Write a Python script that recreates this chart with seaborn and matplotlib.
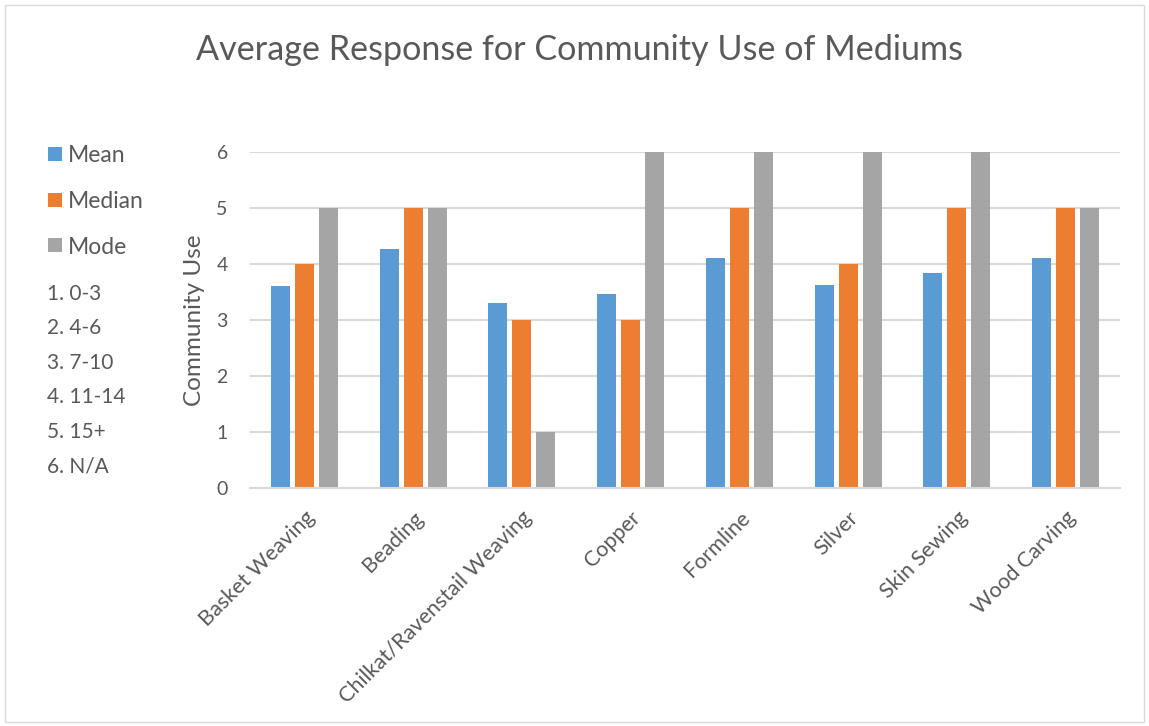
import matplotlib
matplotlib.use("Agg")
import matplotlib.pyplot as plt
from matplotlib.patches import Rectangle
from matplotlib.lines import Line2D
import seaborn as sns
import pandas as pd

categories = ["Basket Weaving", "Beading", "Chilkat/Ravenstail Weaving", "Copper",
              "Formline", "Silver", "Skin Sewing", "Wood Carving"]
mean_vals = [3.61, 4.27, 3.31, 3.46, 4.10, 3.62, 3.84, 4.10]
median_vals = [4, 5, 3, 3, 5, 4, 5, 5]
mode_vals = [5, 5, 1, 6, 6, 6, 6, 5]
series_names = ["Mean", "Median", "Mode"]
series_colors = ["#5b9bd5", "#ed7d31", "#a5a5a5"]
scale_notes = ["1. 0-3", "2. 4-6", "3. 7-10", "4. 11-14", "5. 15+", "6. N/A"]
y_ticks = [0, 1, 2, 3, 4, 5, 6]

df = pd.DataFrame({
    "Medium": categories * 3,
    "Statistic": [s for s in series_names for _ in categories],
    "Value": mean_vals + median_vals + mode_vals,
})

sns.set_theme(style="white")
plt.rcParams["font.family"] = ["Lato", "DejaVu Sans"]
text_color = "#595959"

fig = plt.figure(figsize=(11.49, 7.26), dpi=100)
ax = fig.add_axes([250 / 1149, 1 - 488 / 726, 870 / 1149, 336 / 726])

sns.barplot(data=df, x="Medium", y="Value", hue="Statistic", order=categories,
            hue_order=series_names, palette=series_colors, width=0.66,
            saturation=1, errorbar=None, legend=False, ax=ax)

# leave a small white gap between neighbouring bars
for p in ax.patches:
    w = p.get_width()
    p.set_x(p.get_x() + w * 0.105)
    p.set_width(w * 0.79)
    p.set_linewidth(0)

ax.set_ylim(0, 6)
ax.set_xlim(-0.5, len(categories) - 0.5)
ax.set_yticks(y_ticks)
ax.yaxis.grid(True, color="#d9d9d9", linewidth=1.5)
ax.set_axisbelow(True)
for side in ["top", "right", "left"]:
    ax.spines[side].set_visible(False)
ax.spines["bottom"].set_color("#d9d9d9")
ax.spines["bottom"].set_linewidth(1.5)
ax.tick_params(axis="both", length=0, colors=text_color)
ax.tick_params(axis="x", labelsize=15.5, pad=14)
ax.tick_params(axis="y", labelsize=14, pad=16)
ax.set_xlabel("")
ax.set_ylabel("Community Use", color=text_color, fontsize=17.5, labelpad=8)
plt.setp(ax.get_xticklabels(), rotation=45, ha="right", rotation_mode="anchor")

fig.text(579 / 1149, 1 - 50 / 726, "Average Response for Community Use of Mediums",
         ha="center", va="center", fontsize=24.6, color=text_color)

handles = [Line2D([], [], marker="s", linestyle="none", markersize=10,
                  markerfacecolor=c, markeredgewidth=0) for c in series_colors]
fig.legend(handles, series_names, loc="upper left",
           bbox_to_anchor=(46 / 1149, 1 - 145 / 726), frameon=False,
           borderpad=0, borderaxespad=0,
           fontsize=16.5, labelcolor=text_color, labelspacing=1.08,
           handletextpad=0.15, handlelength=0.8)

for i, note in enumerate(scale_notes):
    fig.text(47 / 1149, 1 - (294 + i * 34.4) / 726, note, ha="left", va="center",
             fontsize=15, color=text_color)

fig.patches.append(Rectangle((5 / 1149, 4 / 726), 1139 / 1149, 717 / 726,
                             transform=fig.transFigure, fill=False,
                             edgecolor="#d9d9d9", linewidth=1))

fig.savefig("out.png", dpi=100)
